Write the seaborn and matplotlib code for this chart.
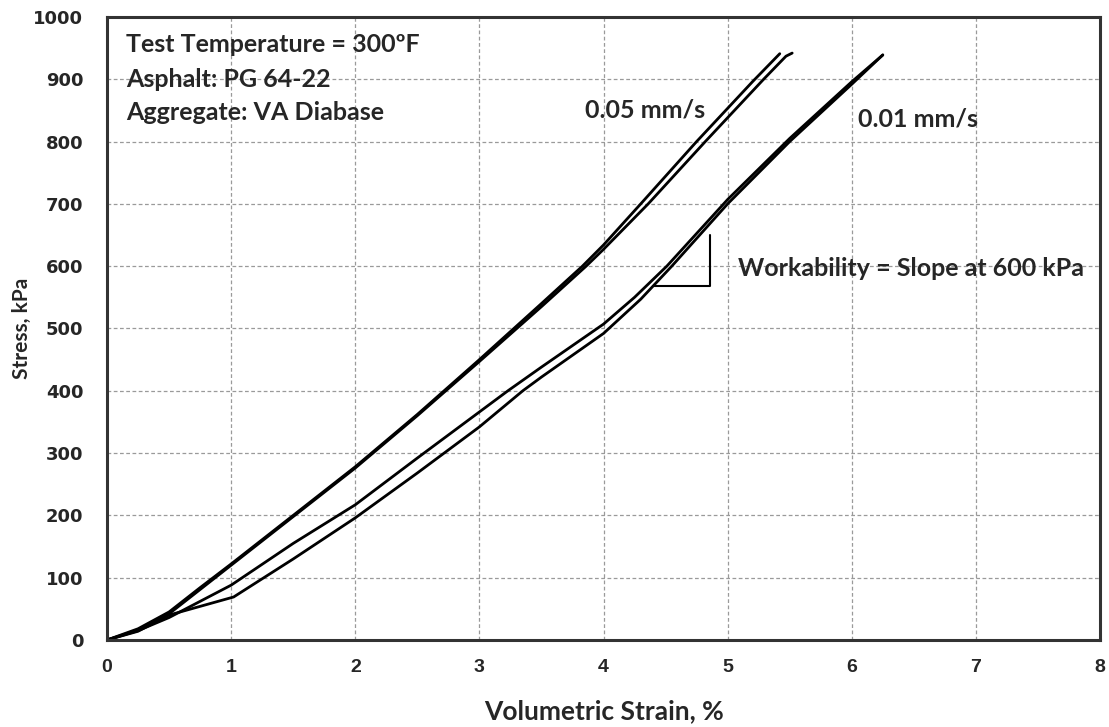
import matplotlib
matplotlib.use("Agg")
import matplotlib.pyplot as plt
import seaborn as sns
import pandas as pd

# ---- data ----
a_x = [0, 0.25, 0.5, 0.75, 1.0, 1.5, 2.0, 2.5, 3.0, 3.5, 3.83, 4.0, 4.30, 4.75, 5.20, 5.42]
a_y = [0, 18, 45, 84, 122, 200, 278, 362, 450, 540, 600, 634, 700, 800, 896, 941]

b_x = [0, 0.25, 0.5, 0.75, 1.0, 1.5, 2.0, 2.5, 3.0, 3.5, 3.86, 4.0, 4.36, 4.82, 5.29, 5.47, 5.52]
b_y = [0, 16, 42, 81, 120, 198, 276, 360, 447, 535, 600, 627, 700, 800, 900, 937, 942]

c_x = [0, 0.25, 0.5, 1.0, 1.5, 2.0, 2.5, 3.0, 3.23, 3.5, 4.0, 4.25, 4.51, 5.0, 5.5, 6.0, 6.25]
c_y = [0, 15, 36, 88, 155, 217, 292, 366, 400, 438, 507, 550, 600, 707, 805, 896, 939]

d_x = [0, 0.25, 0.5, 1.02, 1.5, 2.0, 2.5, 3.0, 3.35, 3.5, 4.0, 4.3, 4.55, 5.0, 5.5, 6.0, 6.25]
d_y = [0, 14, 40, 69, 130, 196, 268, 342, 400, 422, 492, 547, 600, 700, 800, 892, 939]

tri_x = [4.40, 4.86, 4.86]
tri_y = [568, 568, 650]

x_ticks = [0, 1, 2, 3, 4, 5, 6, 7, 8]
y_ticks = [0, 100, 200, 300, 400, 500, 600, 700, 800, 900, 1000]

info_lines = ["Test Temperature = 300ºF", "Asphalt: PG 64-22", "Aggregate: VA Diabase"]
info_y = [955, 900, 846]

frames = []
for name, xs, ys in [("A", a_x, a_y), ("B", b_x, b_y), ("C", c_x, c_y), ("D", d_x, d_y)]:
    frames.append(pd.DataFrame({"strain": xs, "stress": ys, "curve": name}))
df = pd.concat(frames, ignore_index=True)

sns.set_theme(style="white")
plt.rcParams["font.family"] = ["Lato", "DejaVu Sans"]

fig = plt.figure(figsize=(11.09, 7.27), dpi=100)
ax = fig.add_axes([0.0965, 0.1197, 0.8954, 0.857])

sns.lineplot(data=df, x="strain", y="stress", hue="curve", units="curve",
             palette=["black"] * 4, estimator=None, sort=False, legend=False,
             linewidth=2.0, ax=ax)

ax.plot(tri_x, tri_y, color="black", linewidth=1.5)

ax.set_xlim(0, 8)
ax.set_ylim(0, 1000)
ax.set_xticks(x_ticks)
ax.set_yticks(y_ticks)
ax.set_xticklabels([str(v) for v in x_ticks], fontsize=14, fontweight="bold",
                   family=["Liberation Sans", "DejaVu Sans"])
ax.set_yticklabels([str(v) for v in y_ticks], fontsize=13, fontweight="bold",
                   family=["DejaVu Sans"])
ax.tick_params(axis="x", length=0, pad=14)
ax.tick_params(axis="y", length=0, pad=17)

ax.grid(True, linestyle=(0, (3, 2)), color="#9a9a9a", linewidth=0.9)
for s in ax.spines.values():
    s.set_visible(True)
    s.set_color("#333333")
    s.set_linewidth(2.2)

ax.set_xlabel("Volumetric Strain, %", fontsize=19, fontweight="bold", labelpad=16)
ax.set_ylabel("Stress, kPa", fontsize=15, fontweight="bold", labelpad=1)

for line, yv in zip(info_lines, info_y):
    ax.text(0.153, yv, line, fontsize=18, fontweight="bold", ha="left", va="center")

ax.text(3.85, 851, "0.05 mm/s", fontsize=18, fontweight="bold", ha="left", va="center")
ax.text(6.05, 836, "0.01 mm/s", fontsize=18, fontweight="bold", ha="left", va="center")
ax.text(5.08, 597, "Workability = Slope at 600 kPa", fontsize=18, fontweight="bold",
        ha="left", va="center")

fig.savefig("out.png", dpi=100, facecolor="white")
